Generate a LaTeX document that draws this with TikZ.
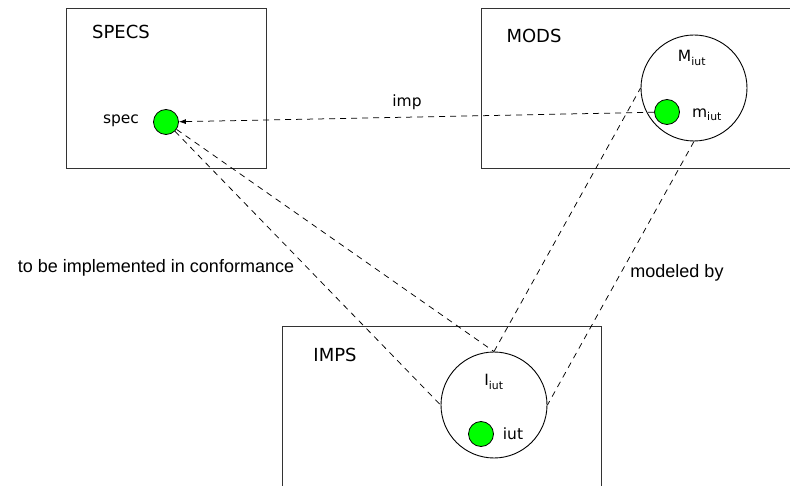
\documentclass[tikz,border=0pt]{standalone}
\usepackage{fontspec}
\setmainfont{DejaVu Sans}
\newfontfamily\arialfont{Liberation Sans}
\usetikzlibrary{arrows.meta}

\tikzset{
  boite/.style={draw=black!80, line width=0.9pt},
  titre/.style={font=\fontsize{18}{20}\selectfont},
  etiq/.style={font=\fontsize{15.5}{18}\selectfont},
  remarque/.style={font=\arialfont\fontsize{18}{20}\selectfont},
  pastille/.style={circle, draw=black, fill=green, minimum size=25pt, inner sep=0pt, line width=0.8pt},
  bulle/.style={circle, draw=black, minimum size=106pt, inner sep=0pt, line width=0.9pt},
  lien/.style={draw=black, dash pattern=on 6pt off 5pt, line width=0.75pt}
}

\begin{document}
\begin{tikzpicture}[x=1pt, y=-1pt]
  \useasboundingbox (0,0) rectangle (790,486);

  % Les trois domaines
  \draw[boite] (66,8) rectangle (266,168);
  \draw[boite] (481,8) rectangle (800,168);
  \draw[boite] (282,326) rectangle (601,500);
  \node[titre] (specs) at (121,32) {SPECS};
  \node[titre] (mods) at (534,36) {MODS};
  \node[titre] (imps) at (335,355) {IMPS};

  % Ensembles M_iut et I_iut
  \node[bulle] (Miut) at (694,88) {};
  \node[bulle] (Iiut) at (494,405) {};
  \node[etiq] (lMiut) at (692,58) {M\textsubscript{iut}};
  \node[etiq] (lIiut) at (494,382) {I\textsubscript{iut}};

  % Elements
  \node[pastille] (spec) at (166,122) {};
  \node[pastille] (miut) at (667,112) {};
  \node[pastille] (iut) at (481,434) {};
  \node[etiq] (lspec) at (121,121) {spec};
  \node[etiq] (lmiut) at (707,115) {m\textsubscript{iut}};
  \node[etiq] (liut) at (513,434) {iut};

  % Relations
  \draw[lien, -{Latex[length=7pt,width=5pt]}] (miut) -- (spec)
    node[etiq, pos=0.52, above=4pt] (imp) {imp};
  \draw[lien] (spec) -- (Iiut.west);
  \draw[lien] (spec) -- (Iiut.north);
  \draw[lien] (Iiut.north) -- (Miut.west);
  \draw[lien] (Miut.south) -- (Iiut.east);

  \node[remarque] (conf) at (156,268) {to be implemented in conformance};
  \node[remarque] (model) at (677,273) {modeled by};
\end{tikzpicture}
\end{document}
